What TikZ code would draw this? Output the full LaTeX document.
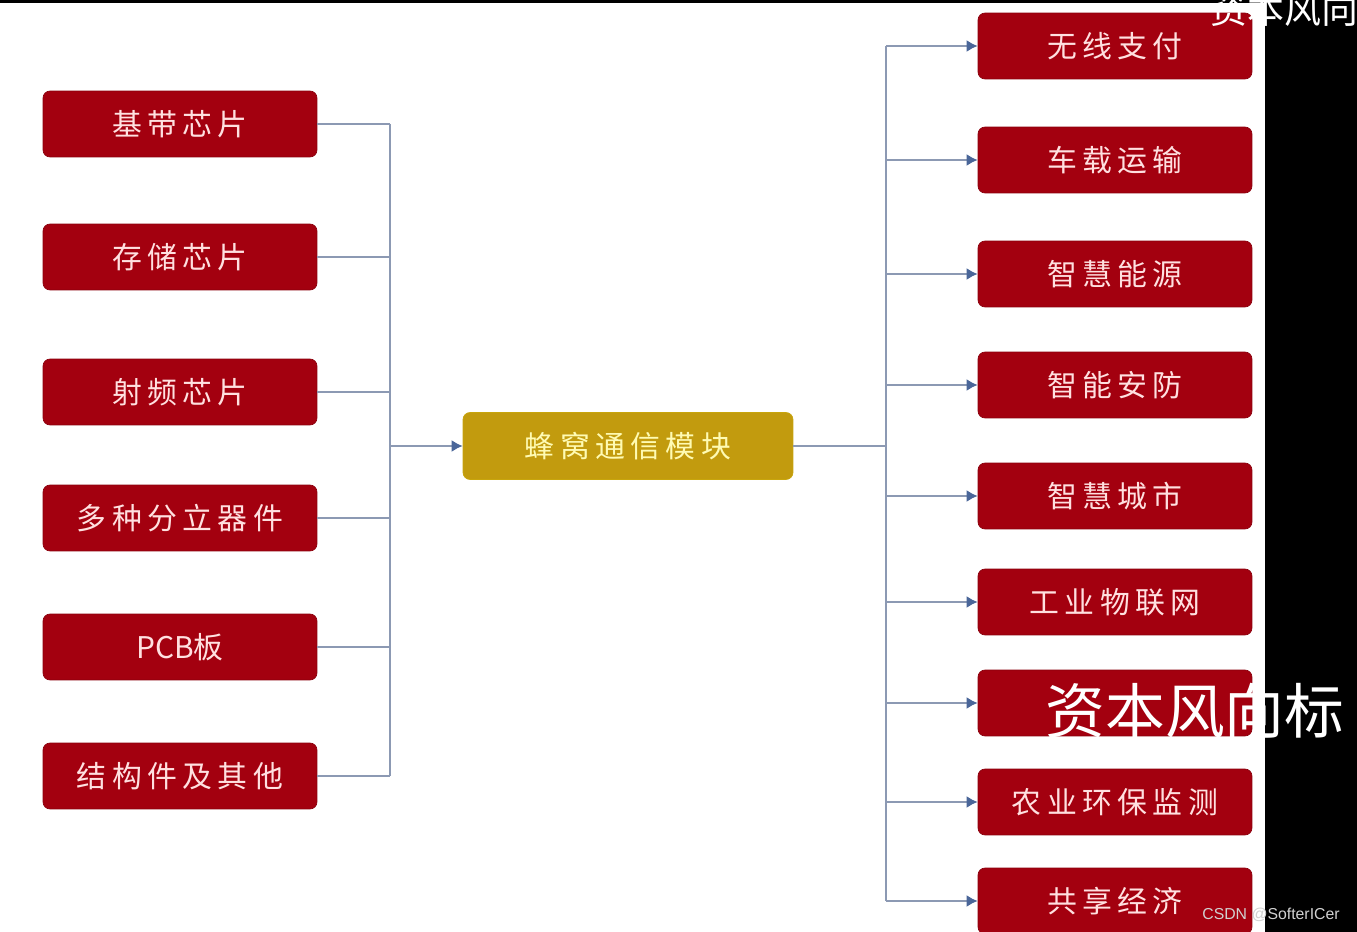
\documentclass[tikz,border=0pt]{standalone}
\usepackage{fontspec}
\setsansfont{Liberation Sans}
\newfontfamily\cjk[LetterSpace=18]{Noto Sans CJK SC}
\newfontfamily\wmfont{Noto Sans CJK SC}
\usetikzlibrary{arrows.meta}

\definecolor{boxred}{HTML}{A3000F}
\definecolor{boxgold}{HTML}{C29B0E}
\definecolor{linkgray}{HTML}{8C99B3}
\definecolor{tipblue}{HTML}{4A6699}

\begin{document}
\begin{tikzpicture}[x=0.02cm, y=-0.02cm,
    font=\cjk\fontsize{17}{20}\selectfont,
    redbox/.style={draw=boxred!85!black, fill=boxred, rounded corners=4pt,
      minimum width=5.48cm, minimum height=1.32cm, text=red!12!white},
    goldbox/.style={draw=boxgold!90!yellow, fill=boxgold, rounded corners=4pt,
      minimum width=6.6cm, minimum height=1.34cm, text=yellow!30!white},
    link/.style={draw=linkgray, line width=1.1pt},
    arr/.style={link, -{Latex[length=0.22cm, width=0.24cm, color=tipblue]}}]
  \useasboundingbox (0,0) rectangle (1357,932);
  \fill[white] (0,0) rectangle (1357,932);

  % Left side: inputs
  \node[redbox] (base) at (180,124) {基带芯片};
  \node[redbox] (mem) at (180,257) {存储芯片};
  \node[redbox] (rf) at (180,392) {射频芯片};
  \node[redbox] (disc) at (180,518) {多种分立器件};
  \node[redbox, font=\wmfont\fontsize{17}{20}\selectfont] (pcb) at (180,647) {PCB板};
  \node[redbox] (struct) at (180,776) {结构件及其他};

  % Centre module
  \node[goldbox] (core) at (628,446) {蜂窝通信模块};

  % Right side: applications
  \node[redbox] (pay) at (1115,46) {无线支付};
  \node[redbox] (car) at (1115,160) {车载运输};
  \node[redbox] (energy) at (1115,274) {智慧能源};
  \node[redbox] (sec) at (1115,385) {智能安防};
  \node[redbox] (city) at (1115,496) {智慧城市};
  \node[redbox] (iot) at (1115,602) {工业物联网};
  \node[redbox] (hidden) at (1115,703) {};
  \node[redbox] (farm) at (1115,802) {农业环保监测};
  \node[redbox] (share) at (1115,901) {共享经济};

  % Bus points
  \coordinate (lbus) at (390,446);
  \coordinate (rbus) at (886,446);

  % Left connectors
  \foreach \n in {base,mem,rf,disc,pcb,struct}
    \draw[link] (\n.east) -- (\n.east -| lbus);
  \draw[link] (base.east -| lbus) -- (struct.east -| lbus);
  \draw[arr] (lbus) -- (core.west);

  % Right connectors
  \draw[link] (core.east) -- (rbus);
  \draw[link] (pay.west -| rbus) -- (share.west -| rbus);
  \foreach \n in {pay,car,energy,sec,city,iot,hidden,farm,share}
    \draw[arr] (\n.west -| rbus) -- (\n.west);

  % Screen edges and overlays
  \fill[black] (0,0) rectangle (1357,3);
  \fill[black] (1265,0) rectangle (1357,932);
  \node[anchor=west, inner sep=0pt, text=white, font=\wmfont\fontsize{21}{21}\selectfont] (wmtop) at (1210,9) {资本风向};
  \node[text=white, inner sep=0pt, font=\wmfont\fontsize{34}{34}\selectfont] (wm) at (1195,711) {资本风向标};
  \node[anchor=east, inner sep=0pt, text=black!18, font=\sffamily\fontsize{9}{11}\selectfont] (csdn) at (1340,915) {CSDN @SofterICer};
\end{tikzpicture}
\end{document}
